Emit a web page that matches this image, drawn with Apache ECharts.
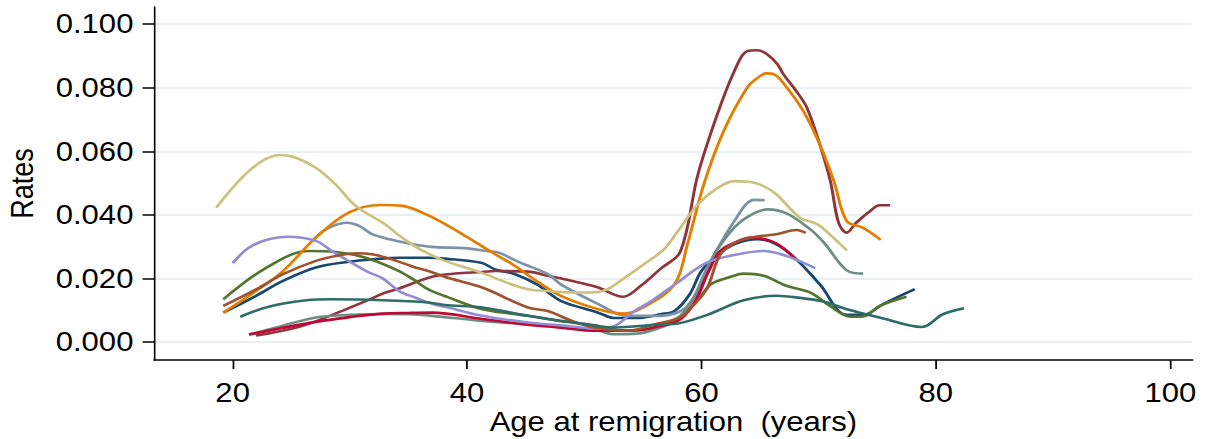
<!DOCTYPE html>
<html>
<head>
<meta charset="utf-8">
<script src="https://cdn.jsdelivr.net/npm/echarts@6/dist/echarts.min.js"></script>
<style>
html,body{margin:0;padding:0;background:#fff;overflow:hidden;}
#wrap{width:1209px;height:439px;overflow:hidden;position:relative;}
#chart{width:1051px;height:439px;transform:scaleX(1.15);transform-origin:0 0;}
</style>
</head>
<body>
<div id="wrap"><div id="chart"></div></div>
<script>
// Tick values
const xTicks = [20, 40, 60, 80, 100];
const yTicks = [0, 0.02, 0.04, 0.06, 0.08, 0.10];

// Series data: [age at remigration (years), rate]
const navy = [[19.2,0.0092],[22,0.0145],[24.3,0.0192],[27.1,0.0234],[29.9,0.0252],[32,0.026],[34.2,0.0265],[36.7,0.0265],[38.1,0.0262],[41.2,0.0249],[42.4,0.0228],[44.1,0.0213],[46,0.018],[48,0.0129],[50,0.0105],[51.2,0.0092],[52.6,0.0075],[54.5,0.0075],[56.5,0.0087],[57.7,0.0097],[59,0.015],[60,0.0223],[61.4,0.0275],[63,0.031],[64.8,0.0323],[66.4,0.0307],[68.1,0.026],[70.1,0.0181],[72.4,0.0085],[73.8,0.0085],[75.5,0.0119],[78.2,0.0166]];
const maroon = [[22,0.0020],[25.7,0.0048],[28.5,0.0085],[31.4,0.0129],[32.8,0.0152],[34.2,0.0168],[37,0.0205],[39,0.0215],[41.3,0.022],[42.4,0.0223],[45.2,0.0221],[46.9,0.0208],[49.5,0.0187],[51.2,0.0171],[53.3,0.0142],[54.8,0.0176],[56.5,0.023],[58.2,0.0284],[59.7,0.0527],[61.4,0.0721],[62.8,0.0852],[63.9,0.0915],[64.8,0.0918],[65.6,0.0905],[66.5,0.0873],[67,0.0842],[68.1,0.0789],[69,0.0737],[70.1,0.0621],[71,0.0506],[71.7,0.0375],[72.4,0.0344],[73.2,0.0375],[74.4,0.0412],[75.2,0.043],[76.1,0.043]];
const forestGreen = [[19.2,0.0134],[22.9,0.0234],[26.5,0.0286],[28.8,0.0283],[31.35,0.0265],[34.2,0.0223],[35.6,0.0192],[36.7,0.0165],[38.4,0.014],[41.3,0.0103],[45.2,0.0082],[48,0.0065],[51.2,0.005],[52,0.0038],[54,0.0036],[57,0.0055],[59.4,0.0119],[60.8,0.0181],[62.5,0.0205],[63.6,0.0215],[65.3,0.0208],[67.3,0.0176],[69.3,0.0155],[71,0.0112],[72.7,0.0079],[73.8,0.0080],[75.2,0.0113],[77.5,0.0142]];
const dkorange = [[19.2,0.0092],[22,0.016],[24.3,0.0223],[27.1,0.0328],[29.9,0.0407],[32.6,0.0431],[34.5,0.0428],[36.7,0.0398],[38.4,0.0365],[40,0.033],[42.4,0.0276],[44.1,0.0239],[46,0.019],[48,0.0145],[51.2,0.0103],[53.4,0.0089],[55.1,0.011],[57.7,0.0181],[58.8,0.0307],[60.2,0.0496],[61.9,0.0664],[63.9,0.080],[64.8,0.0831],[65.5,0.0845],[66.2,0.0842],[67.3,0.080],[68.7,0.0726],[70.1,0.0621],[71.3,0.0506],[72.4,0.038],[73.8,0.0359],[75.3,0.0321]];
const teal = [[21.4,0.0023],[24,0.0048],[27.1,0.0077],[30,0.0085],[32.8,0.0088],[35,0.0087],[37,0.0082],[41.3,0.0066],[46.9,0.005],[51.2,0.0035],[52.5,0.0024],[54.5,0.0026],[56.5,0.0045],[57.7,0.0065],[58.8,0.0108],[60,0.018],[61.1,0.0275],[62.8,0.036],[64,0.0395],[65.6,0.0417],[67.3,0.0404],[69.3,0.0354],[70.5,0.031],[72.4,0.0225],[73.8,0.0215]];
const cranberry = [[21.4,0.0023],[24,0.0042],[27.1,0.0063],[30,0.0078],[32.8,0.0089],[35,0.0091],[37,0.0092],[41.3,0.0072],[45,0.0055],[48,0.0045],[50.9,0.0035],[54,0.0035],[56.5,0.005],[58.2,0.0071],[59.5,0.013],[60.5,0.0213],[61.6,0.0286],[63,0.0315],[64.2,0.0328],[65.9,0.0318],[67,0.0295],[68.1,0.0257]];
const lavender = [[20,0.0248],[21.4,0.0297],[23,0.0322],[24.6,0.0331],[27.1,0.0318],[28.5,0.0285],[31.4,0.0223],[32.8,0.020],[34.2,0.016],[35.6,0.0139],[37,0.012],[38.4,0.0108],[41.3,0.0082],[45.2,0.0061],[48,0.0052],[51.2,0.0042],[52.6,0.005],[54.3,0.0097],[55.8,0.013],[57.7,0.018],[60.5,0.0250],[63,0.0275],[65.3,0.0286],[67.3,0.027],[69.7,0.0232]];
const khaki = [[18.6,0.0422],[20,0.0485],[21.4,0.0538],[22.8,0.0575],[24.1,0.0588],[25.5,0.0578],[27.1,0.0548],[28.8,0.0495],[30.5,0.0428],[33,0.037],[34.2,0.0335],[35.6,0.030],[36.7,0.0278],[38.1,0.0255],[41.2,0.0218],[43.5,0.0185],[45.2,0.0166],[46.9,0.016],[49.5,0.0155],[51.2,0.0157],[52,0.0166],[53.7,0.0208],[55.3,0.025],[56.8,0.0291],[58,0.0349],[59.7,0.0433],[61.2,0.048],[62.8,0.0506],[64.5,0.0501],[66.2,0.047],[68.4,0.0391],[69.9,0.037],[71.2,0.033],[72.4,0.0288]];
const sienna = [[19.2,0.0113],[22,0.0165],[24.3,0.0213],[27.1,0.0255],[29,0.0272],[30.5,0.0279],[32,0.0275],[34,0.0255],[35.6,0.0234],[36.7,0.0223],[38.5,0.020],[41.3,0.0171],[45.2,0.0108],[46.9,0.0097],[49,0.0065],[50.9,0.0045],[53.7,0.0035],[56,0.0055],[58.2,0.0077],[59.4,0.0119],[60.5,0.017],[61.6,0.0275],[63,0.0315],[64.5,0.033],[66.4,0.0339],[68.1,0.0352],[68.9,0.0343]];
const emidblue = [[26.8,0.0318],[28,0.0355],[29.7,0.0375],[30.8,0.0365],[31.9,0.0339],[33.5,0.0322],[34.75,0.0312],[37,0.0299],[39.8,0.0295],[41.8,0.0285],[42.7,0.0281],[44.5,0.025],[46.9,0.0213],[48,0.0181],[51.2,0.0119],[53.7,0.0082],[56.5,0.0082],[58.8,0.0113],[60.5,0.0234],[62.8,0.038],[64.5,0.0447],[65.4,0.0446]];
const emerald = [[20.65,0.0079],[23,0.011],[26.3,0.0131],[28.5,0.0134],[32.8,0.0131],[36.7,0.0124],[38.1,0.0116],[41.3,0.0108],[45.2,0.0082],[51.2,0.005],[52.3,0.0045],[56.5,0.0055],[58,0.0058],[60.5,0.0085],[63.6,0.0131],[66.4,0.0145],[68.1,0.014],[70.4,0.0127],[72.4,0.0103],[75.2,0.0077],[78.8,0.0047],[80.6,0.0087],[82.4,0.0106]];

const seriesDefs = [
  ['navy', navy, '#1a476f'],
  ['maroon', maroon, '#90353b'],
  ['forest_green', forestGreen, '#55752f'],
  ['emidblue', emidblue, '#7b92a8'],
  ['dkorange', dkorange, '#e37e00'],
  ['teal', teal, '#6e8e84'],
  ['cranberry', cranberry, '#c10534'],
  ['lavender', lavender, '#938dd2'],
  ['khaki', khaki, '#cac27e'],
  ['sienna', sienna, '#a0522d'],
  ['emerald', emerald, '#2d6d66']
];

const font = '"Liberation Sans", Arial, sans-serif';
const chart = echarts.init(document.getElementById('chart'), null, {renderer: 'svg'});
chart.setOption({
  animation: false,
  backgroundColor: '#ffffff',
  grid: {left: 134, right: 14, top: 7, bottom: 79, containLabel: false, outerBoundsMode: 'none'},
  xAxis: {
    type: 'value', min: 13.3, max: 101.9,
    name: 'Age at remigration  (years)', nameLocation: 'middle', nameGap: 48, nameMoveOverlap: false,
    nameTextStyle: {fontFamily: font, fontSize: 27, color: '#000'},
    axisLine: {show: true, onZero: false, lineStyle: {color: '#000', width: 1.6}},
    axisTick: {show: true, length: 9, lineStyle: {color: '#000', width: 1.5}, customValues: xTicks},
    axisLabel: {fontFamily: font, fontSize: 27, color: '#000', margin: 19, customValues: xTicks},
    splitLine: {show: false}
  },
  yAxis: {
    type: 'value', min: -0.0057, max: 0.1054,
    name: 'Rates', nameLocation: 'middle', nameGap: 101, nameRotate: 90, nameMoveOverlap: false,
    nameTextStyle: {fontFamily: font, fontSize: 27, color: '#000'},
    axisLine: {show: true, onZero: false, lineStyle: {color: '#000', width: 1.4}},
    axisTick: {show: true, length: 10, lineStyle: {color: '#000', width: 1.5}, customValues: yTicks},
    axisLabel: {fontFamily: font, fontSize: 27, color: '#000', margin: 18, customValues: yTicks,
      formatter: v => v.toFixed(3)},
    splitLine: {show: true, lineStyle: {color: '#e8f0f3', width: 2}}
  },
  series: seriesDefs.map(([name, data, color]) => ({
    name, type: 'line', data, smooth: 0.35, showSymbol: false, symbol: 'none',
    lineStyle: {color, width: 2.6}, itemStyle: {color}
  }))
});
</script>
</body>
</html>
